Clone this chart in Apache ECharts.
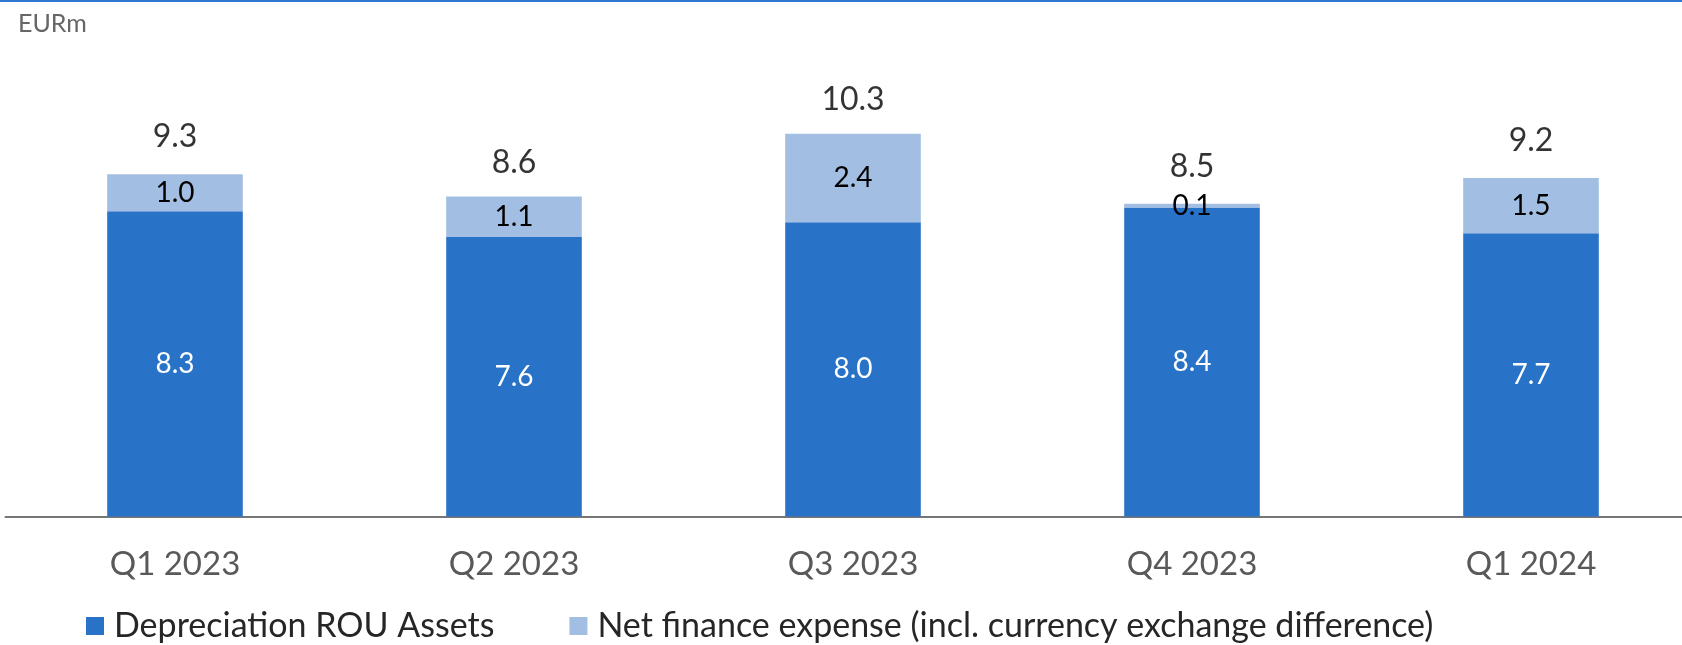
<!DOCTYPE html>
<html>
<head>
<meta charset="utf-8">
<script src="https://cdn.jsdelivr.net/npm/echarts@6/dist/echarts.min.js"></script>
<style>
  html, body { margin: 0; padding: 0; background: #ffffff; }
  #chart { width: 1682px; height: 645px; }
</style>
</head>
<body>
<div id="chart"></div>
<script>
// Quarterly lease-related costs, EURm
const quarters = ['Q1 2023', 'Q2 2023', 'Q3 2023', 'Q4 2023', 'Q1 2024'];
const depreciationRou = [8.3, 7.6, 8.0, 8.4, 7.7];
const netFinanceExpense = [1.0, 1.1, 2.4, 0.1, 1.5];
const totals = [9.3, 8.6, 10.3, 8.5, 9.2];
const seriesNames = ['Depreciation ROU Assets', 'Net finance expense (incl. currency exchange difference)'];
const unitLabel = 'EURm';

const FONT = 'Lato, "Noto Sans", sans-serif';
const DARK = '#2872C8';
const LIGHT = '#A2BFE3';

const chart = echarts.init(document.getElementById('chart'), null, { renderer: 'canvas' });

chart.setOption({
  animation: false,
  backgroundColor: '#ffffff',
  textStyle: { fontFamily: FONT },
  graphic: [
    {
      type: 'rect',
      left: 0, top: 0,
      shape: { width: 1682, height: 2 },
      style: { fill: '#2E76D0' },
      silent: true
    }
  ],
  title: {
    text: unitLabel,
    left: 13,
    top: 6,
    textStyle: { fontFamily: FONT, fontSize: 25, fontWeight: 'normal', color: '#666666' }
  },
  legend: {
    data: seriesNames,
    left: 81,
    top: 602,
    icon: 'rect',
    itemWidth: 18,
    itemHeight: 18,
    itemGap: 75,
    textStyle: { fontFamily: FONT, fontSize: 34, color: '#262626', lineHeight: 38, padding: [0, 0, 0, 5] }
  },
  // the plot area runs slightly past the right edge of the canvas
  grid: { left: 5.5, top: 75, width: 1695, height: 441.5, containLabel: false, outerBoundsMode: 'none' },
  xAxis: {
    type: 'category',
    data: quarters,
    axisTick: { show: false },
    axisLine: { show: true, lineStyle: { color: '#767676', width: 2 } },
    axisLabel: { margin: 31, fontFamily: FONT, fontSize: 33, color: '#595959' }
  },
  yAxis: {
    type: 'value',
    min: 0,
    max: 12,
    show: false,
    splitLine: { show: false }
  },
  series: [
    {
      name: seriesNames[0],
      type: 'bar',
      stack: 'cost',
      barWidth: '40%',
      data: depreciationRou,
      itemStyle: { color: DARK },
      label: {
        show: true,
        position: 'inside',
        formatter: p => p.value.toFixed(1),
        fontFamily: FONT,
        fontSize: 28,
        color: '#ffffff'
      }
    },
    {
      name: seriesNames[1],
      type: 'bar',
      stack: 'cost',
      barWidth: '40%',
      data: netFinanceExpense,
      itemStyle: { color: LIGHT },
      label: {
        show: true,
        position: 'inside',
        formatter: p => p.value.toFixed(1),
        fontFamily: FONT,
        fontSize: 28,
        color: '#000000'
      }
    },
    {
      name: 'Total',
      type: 'scatter',
      data: totals,
      symbolSize: 1,
      itemStyle: { color: 'rgba(0,0,0,0)' },
      silent: true,
      z: 5,
      label: {
        show: true,
        position: 'top',
        distance: 21,
        formatter: p => p.value.toFixed(1),
        fontFamily: FONT,
        fontSize: 32,
        color: '#000000'
      }
    }
  ]
});
</script>
</body>
</html>
